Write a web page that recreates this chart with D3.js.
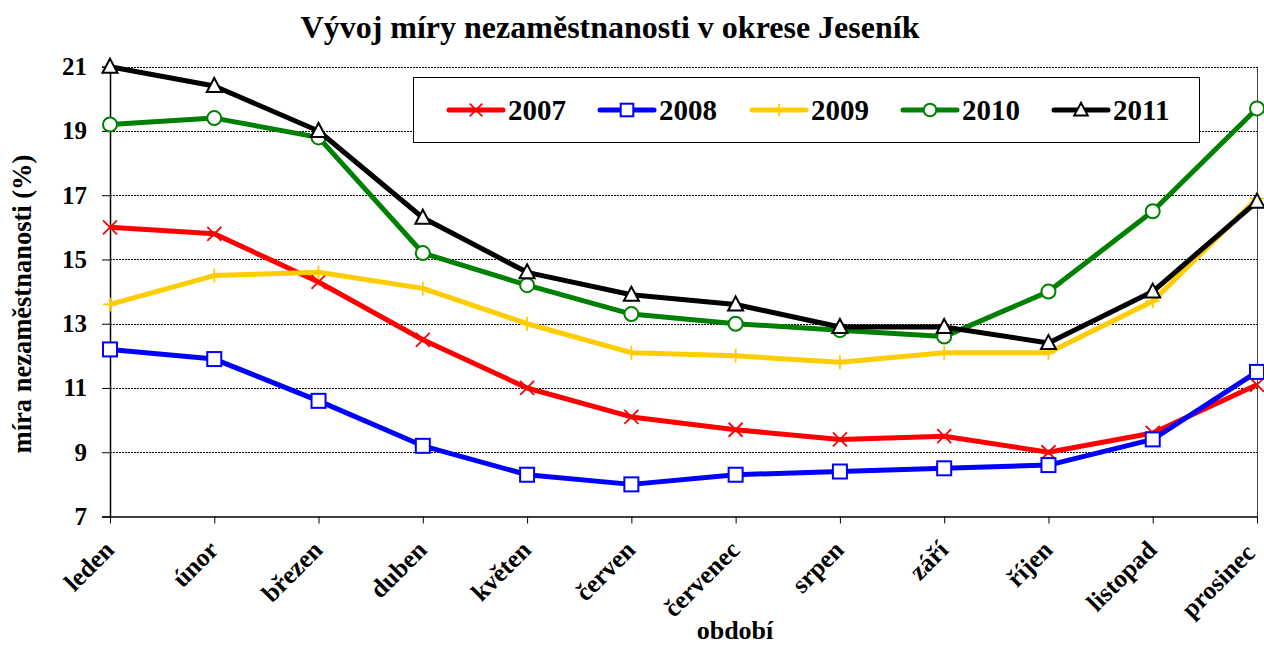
<!DOCTYPE html>
<html><head><meta charset="utf-8">
<script src="https://cdn.jsdelivr.net/npm/d3@7"></script>
<style>body{margin:0;background:#fff}svg{display:block}text{font-family:"Liberation Serif","Times New Roman",serif;font-weight:bold}</style>
</head><body><svg id="c" width="1264" height="646"></svg>
<script>
const months = ["leden","únor","březen","duben","květen","červen","červenec","srpen","září","říjen","listopad","prosinec"];
const years = ["2007","2008","2009","2010","2011"];
const v2007 = [16.0,15.8,14.3,12.5,11.0,10.1,9.7,9.4,9.5,9.0,9.6,11.1];
const v2008 = [12.2,11.9,10.6,9.2,8.3,8.0,8.3,8.4,8.5,8.6,9.4,11.5];
const v2009 = [13.6,14.5,14.6,14.1,13.0,12.1,12.0,11.8,12.1,12.1,13.7,16.9];
const v2010 = [19.2,19.4,18.8,15.2,14.2,13.3,13.0,12.8,12.6,14.0,16.5,19.7];
const v2011 = [21.0,20.4,19.0,16.3,14.6,13.9,13.6,12.9,12.9,12.4,14.0,16.8];
const yTicks = [7,9,11,13,15,17,19,21];
const colors = ["#ff0000","#0000ff","#ffcc00","#008000","#000000"];
const markers = ["x","square","plus","circle","triangle"];
const seriesValues = [v2007,v2008,v2009,v2010,v2011];

const svg = d3.select("#c");
const L=110,R=1257,T=66.7,B=516.5;
const x = d3.scalePoint().domain(months).range([L,R]);
const y = d3.scaleLinear().domain([7,21]).range([B,T]);
const FF = '"Liberation Serif","Times New Roman",serif';

// gridlines
svg.append("g").selectAll("line").data(yTicks.filter(d=>d>7)).join("line")
  .attr("x1",L).attr("x2",R).attr("y1",d=>Math.round(y(d))+0.5).attr("y2",d=>Math.round(y(d))+0.5)
  .attr("stroke","#000").attr("stroke-width",1).attr("stroke-dasharray","2,1");
// right border
svg.append("line").attr("x1",R+0.5).attr("x2",R+0.5).attr("y1",T).attr("y2",B).attr("stroke","#444").attr("stroke-width",1);

// axes
const yAxis = svg.append("g").attr("transform",`translate(${L},0)`)
  .call(d3.axisLeft(y).tickValues(yTicks).tickSize(8).tickPadding(15).tickFormat(d3.format("d")));
yAxis.select(".domain").attr("stroke","#000").attr("stroke-width",1.5);
yAxis.selectAll("text").attr("font-size",25).attr("fill","#000").style("font-family",FF).style("font-weight","bold");
yAxis.selectAll("line").attr("stroke","#000");

const xAxis = svg.append("g").attr("transform",`translate(0,${B})`)
  .call(d3.axisBottom(x).tickSize(7).tickSizeOuter(0));
xAxis.select(".domain").attr("stroke","#000").attr("stroke-width",1.5);
xAxis.selectAll("line").attr("stroke","#000");
xAxis.selectAll("text").attr("font-size",25.5).attr("fill","#000")
  .style("font-family",FF).style("font-weight","bold")
  .attr("text-anchor","end").attr("dy",null).attr("y",0)
  .attr("transform",(d,i)=> i===months.length-1 ? "translate(-1,38) rotate(-45)" : "translate(5,35) rotate(-45)");

function drawMarker(g,type,color,cx,cy,k){
  const s=7*k;
  if(type==="x"){
    g.append("path").attr("d",`M${cx-s},${cy-s}L${cx+s},${cy+s}M${cx-s},${cy+s}L${cx+s},${cy-s}`).attr("stroke",color).attr("stroke-width",1.8).attr("fill","none");
  } else if(type==="plus"){
    g.append("path").attr("d",`M${cx-s},${cy}L${cx+s},${cy}M${cx},${cy-s}L${cx},${cy+s}`).attr("stroke",color).attr("stroke-width",1.8).attr("fill","none");
  } else if(type==="square"){
    g.append("rect").attr("x",cx-s).attr("y",cy-s).attr("width",2*s).attr("height",2*s).attr("fill","#fff").attr("stroke",color).attr("stroke-width",2);
  } else if(type==="circle"){
    g.append("circle").attr("cx",cx).attr("cy",cy).attr("r",s).attr("fill","#fff").attr("stroke",color).attr("stroke-width",2);
  } else if(type==="triangle"){
    g.append("path").attr("d",`M${cx},${cy-8*k}L${cx+7.5*k},${cy+6*k}L${cx-7.5*k},${cy+6*k}Z`).attr("fill","#fff").attr("stroke",color).attr("stroke-width",2);
  }
}

const line = d3.line().x((d,i)=>x(months[i])).y(d=>y(d));
seriesValues.forEach((vals,si)=>{
  const g = svg.append("g");
  g.append("path").datum(vals).attr("d",line).attr("fill","none").attr("stroke",colors[si]).attr("stroke-width",5).attr("stroke-linejoin","round");
  vals.forEach((v,i)=>drawMarker(g,markers[si],colors[si],x(months[i]),y(v),1));
});

// legend
const lg = svg.append("g");
lg.append("rect").attr("x",413.5).attr("y",77.5).attr("width",786).attr("height",65).attr("fill","#fff").attr("stroke","#000").attr("stroke-width",1);
const legX = [449,600,752,903,1054];
years.forEach((yr,i)=>{
  const lx=legX[i], ly=110;
  lg.append("line").attr("x1",lx).attr("x2",lx+54).attr("y1",ly).attr("y2",ly).attr("stroke",colors[i]).attr("stroke-width",5).attr("stroke-linecap","round");
  drawMarker(lg,markers[i],colors[i],lx+27,ly,0.9);
  lg.append("text").attr("x",lx+59).attr("y",ly+10).attr("font-size",29).attr("fill","#000").text(yr);
});

// titles
svg.append("text").attr("x",610).attr("y",38).attr("text-anchor","middle").attr("font-size",32).attr("fill","#000").text("Vývoj míry nezaměstnanosti v okrese Jeseník");
svg.append("text").attr("transform","translate(31,304) rotate(-90)").attr("text-anchor","middle").attr("font-size",26.5).attr("fill","#000").text("míra nezaměstnanosti (%)");
svg.append("text").attr("x",735).attr("y",639).attr("text-anchor","middle").attr("font-size",26).attr("fill","#000").text("období");
</script></body></html>
